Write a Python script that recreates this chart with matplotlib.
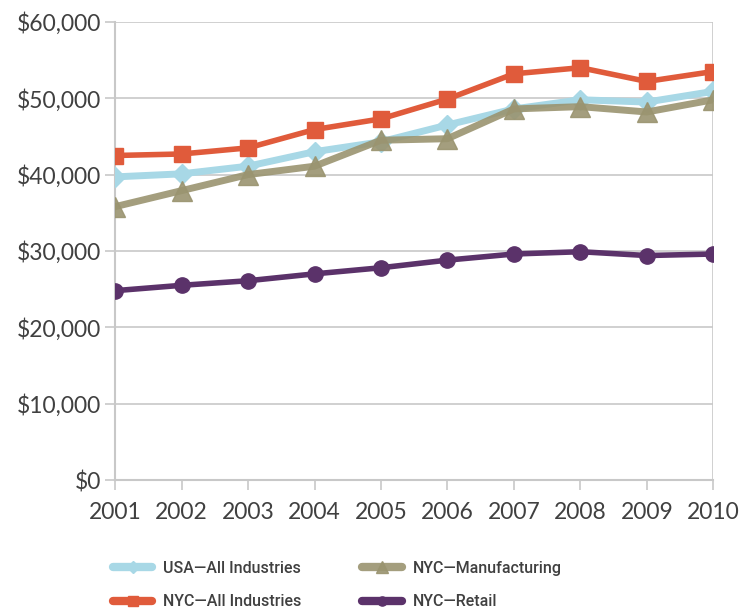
import matplotlib
matplotlib.use("Agg")
import matplotlib.pyplot as plt
from matplotlib.ticker import FuncFormatter

years = [2001, 2002, 2003, 2004, 2005, 2006, 2007, 2008, 2009, 2010]
usa_all = [39700, 40100, 41100, 43000, 44300, 46500, 48600, 49800, 49500, 50900]
nyc_all = [42500, 42700, 43500, 45900, 47300, 49900, 53200, 54000, 52200, 53500]
nyc_manuf = [35800, 37900, 40000, 41100, 44500, 44700, 48600, 48900, 48200, 49800]
nyc_retail = [24800, 25500, 26100, 27000, 27800, 28800, 29600, 29900, 29400, 29600]

labels = ["USA\u2014All Industries", "NYC\u2014All Industries",
          "NYC\u2014Manufacturing", "NYC\u2014Retail"]

plt.rcParams['font.family'] = ['Lato', 'DejaVu Sans']

fig = plt.figure(figsize=(7.43, 6.08), dpi=100)
ax = fig.add_axes([0.155, 0.2105, 0.805, 0.7535])

grid_c = "#c8c8c8"
text_c = "#404040"

l_usa, = ax.plot(years, usa_all, color="#a8d8e6", lw=5, marker="D", ms=10,
                 label=labels[0], zorder=3)
l_man, = ax.plot(years, nyc_manuf, color="#9a9470", lw=5, marker="^", ms=14,
                 alpha=0.9, label=labels[2], zorder=4)
l_nyc, = ax.plot(years, nyc_all, color="#e05b3b", lw=4, marker="s", ms=11,
                 label=labels[1], zorder=5)
l_ret, = ax.plot(years, nyc_retail, color="#5b326a", lw=4, marker="o", ms=11,
                 label=labels[3], zorder=5)

ax.set_xlim(2001, 2010)
ax.set_ylim(0, 60000)
ax.set_yticks(range(0, 60001, 10000))
ax.set_xticks(years)
ax.yaxis.set_major_formatter(FuncFormatter(lambda v, p: "${:,.0f}".format(v)))

ax.grid(axis="y", color=grid_c, lw=1.2, zorder=0)
for s in ["top", "right"]:
    ax.spines[s].set_visible(False)
ax.spines["left"].set_color(grid_c)
ax.spines["bottom"].set_color(grid_c)
ax.spines["left"].set_linewidth(1.5)
ax.spines["bottom"].set_linewidth(1.5)
ax.axvline(2010, color=grid_c, lw=1.2, zorder=0)
ax.set_axisbelow(True)
ax.tick_params(axis="y", length=7, width=1.2, color=grid_c, labelsize=16.5,
               labelcolor=text_c, pad=3)
ax.tick_params(axis="x", length=7, width=1.2, color=grid_c, labelsize=16.5,
               labelcolor=text_c, pad=9)

leg = fig.legend(handles=[l_usa, l_nyc, l_man, l_ret], labels=labels,
                 loc="upper left", bbox_to_anchor=(113 / 743, 1 - 561 / 608), ncol=2,
                 frameon=False, handlelength=2.45, handletextpad=0.7,
                 columnspacing=3.8, labelspacing=1.15, markerscale=0.6,
                 borderpad=0, borderaxespad=0,
                 prop={"family": ["Roboto", "DejaVu Sans"], "size": 11.5,
                       "weight": "medium"})
for t in leg.get_texts():
    t.set_color(text_c)
for ln in leg.get_lines():
    ln.set_linewidth(6)
    ln.set_solid_capstyle("round")

fig.savefig("out.png", dpi=100)
